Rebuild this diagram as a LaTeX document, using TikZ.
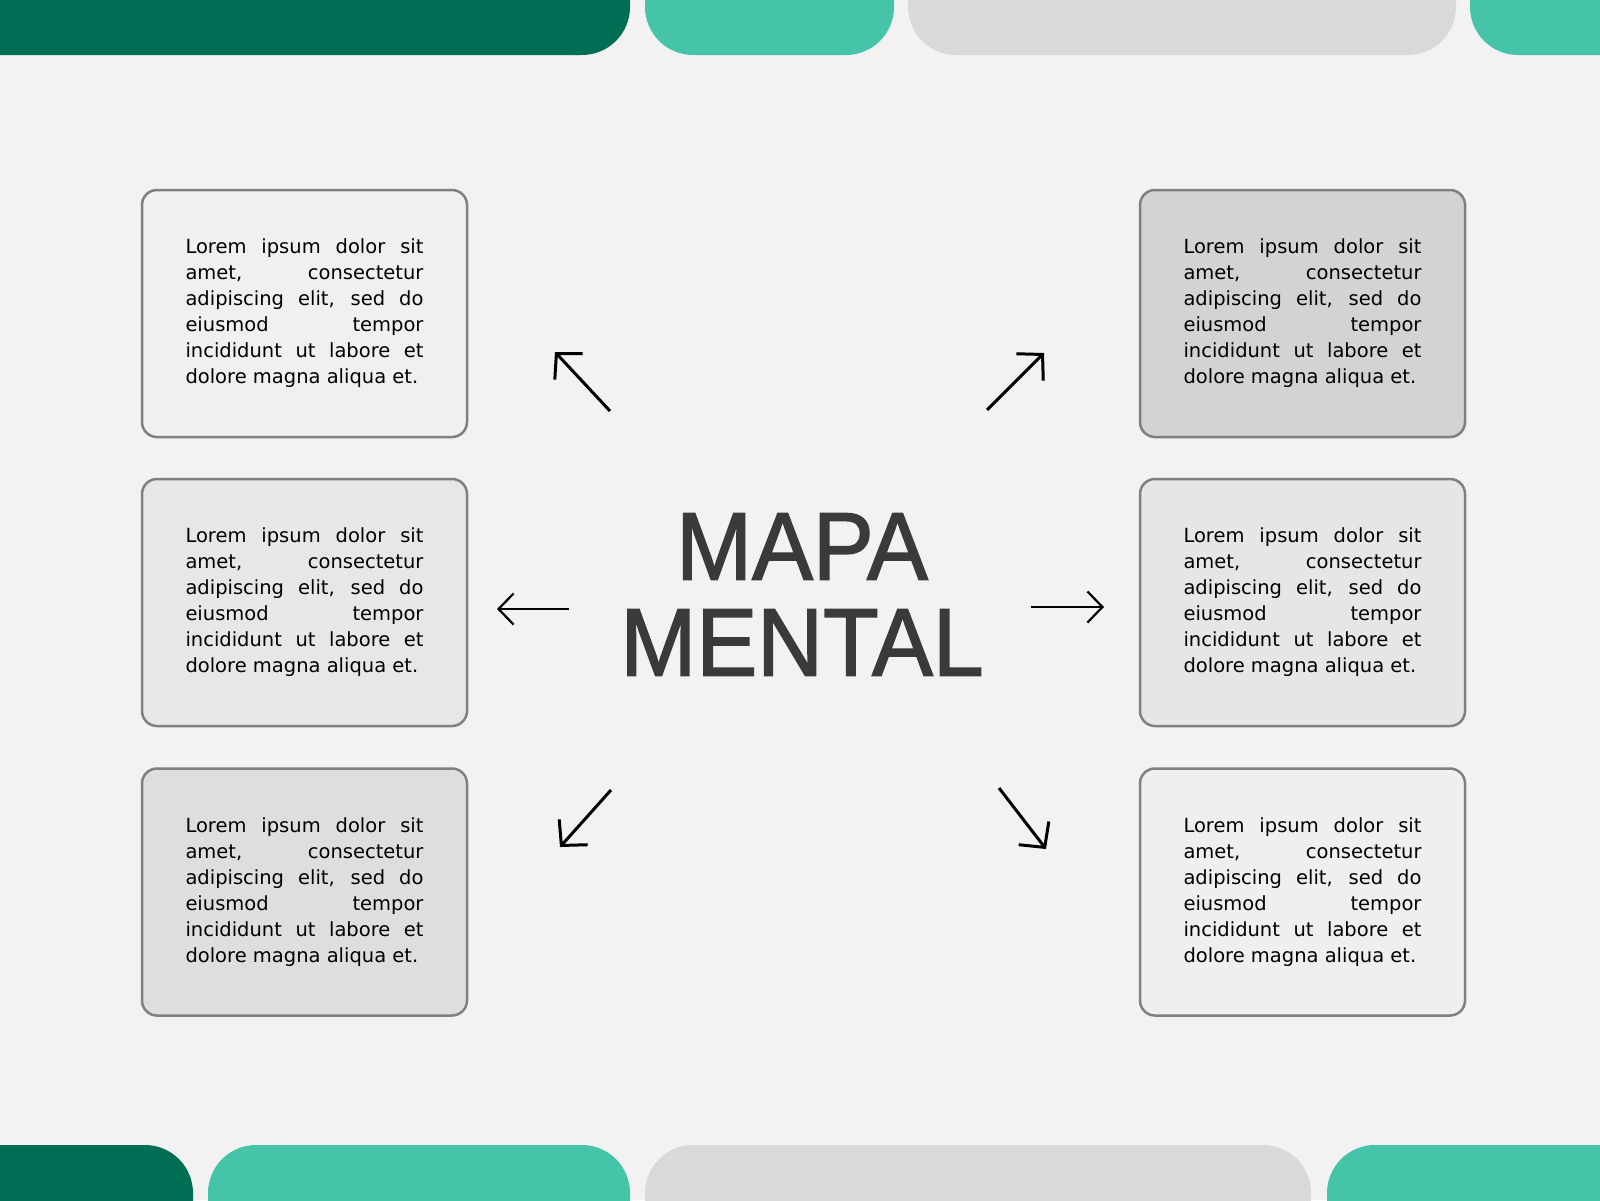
\documentclass[tikz,border=0pt]{standalone}
\usepackage{fontspec}
\setmainfont{DejaVu Sans}
\newfontfamily\titlefont[FakeStretch=0.95,FakeBold=1.6]{Liberation Sans}
\usetikzlibrary{arrows.meta}

\definecolor{darkgreen}{HTML}{006E55}
\definecolor{mint}{HTML}{45C4A9}
\definecolor{bargray}{HTML}{D9D9D9}
\definecolor{paper}{HTML}{F2F2F2}
\definecolor{edgegray}{HTML}{808080}
\definecolor{ink}{HTML}{3A3A3A}

\newcommand{\lorem}{Lorem ipsum dolor sit\linebreak amet, consectetur\linebreak adipiscing elit, sed do\linebreak eiusmod tempor\linebreak incididunt ut labore et\linebreak dolore magna aliqua et.}

\begin{document}
\begin{tikzpicture}[x=1pt,y=-1pt]

        \useasboundingbox (0,0) rectangle (1600,1200);
        \clip (0,0) rectangle (1600,1200);
        \fill[paper] (0,0) rectangle (1600,1200);

        % bars top and bottom
        \begin{scope}[rounded corners=48]
          \fill[darkgreen] (-60,-60)  rectangle (630,55);
          \fill[mint]      (645,-60)  rectangle (894,55);
          \fill[bargray]   (908,-60)  rectangle (1456,55);
          \fill[mint]      (1470,-60) rectangle (1660,55);
          \fill[darkgreen] (-60,1145)  rectangle (193,1260);
          \fill[mint]      (208,1145)  rectangle (630,1260);
          \fill[bargray]   (645,1145)  rectangle (1311,1260);
          \fill[mint]      (1327,1145) rectangle (1660,1260);
        \end{scope}

        \node[font=\titlefont\fontsize{96}{96}\selectfont, text=ink, align=center] (0) at (802,594.5) {MAPA\\MENTAL};

        \begin{scope}[every node/.style={draw=edgegray, line width=2.5, rounded corners=15,
            minimum width=325, minimum height=247, text width=238, align=justify,
            font=\fontsize{19.5}{26}\selectfont}]
          \node[fill={rgb,255:red,240;green,240;blue,240}] (1) at (304.5,313.5)  {\lorem};
          \node[fill={rgb,255:red,231;green,231;blue,231}] (2) at (304.5,602.5)  {\lorem};
          \node[fill={rgb,255:red,222;green,222;blue,222}] (3) at (304.5,892)    {\lorem};
          \node[fill={rgb,255:red,211;green,211;blue,211}] (4) at (1302.5,313.5) {\lorem};
          \node[fill={rgb,255:red,230;green,230;blue,230}] (5) at (1302.5,602.5) {\lorem};
          \node[fill={rgb,255:red,239;green,239;blue,239}] (6) at (1302.5,892)   {\lorem};
        \end{scope}

        \coordinate (1a) at (610,411);  \coordinate (1b) at (555,352);
        \coordinate (2a) at (569,609);  \coordinate (2b) at (497,609);
        \coordinate (3a) at (611,790);  \coordinate (3b) at (560,847);
        \coordinate (4a) at (987,410);  \coordinate (4b) at (1044,353);
        \coordinate (5a) at (1031,607); \coordinate (5b) at (1104,607);
        \coordinate (6a) at (999,788);  \coordinate (6b) at (1046,849);

        \begin{scope}[every edge/.style={draw, line width=3, -{Straight Barb[length=18pt,width=38pt]}}]
          \path (1a) edge (1b);
          \path (3a) edge (3b);
          \path (4a) edge (4b);
          \path (6a) edge (6b);
          \path (2a) edge[line width=2.2, -{Straight Barb[length=15pt,width=31pt]}] (2b);
          \path (5a) edge[line width=2.2, -{Straight Barb[length=15pt,width=31pt]}] (5b);
        \end{scope}

      \end{tikzpicture}
\end{document}
